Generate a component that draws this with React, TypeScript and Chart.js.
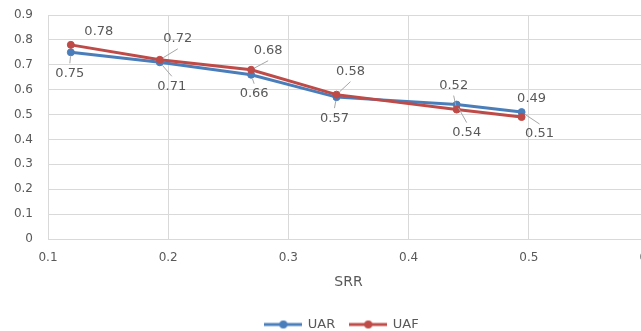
import React, { useEffect, useRef } from "react";
import { Chart, registerables } from "chart.js";

Chart.register(...registerables);

// SRR on the horizontal axis, one value per measurement
const srr = [0.119, 0.193, 0.269, 0.34, 0.44, 0.494];
const uar = [0.75, 0.71, 0.66, 0.57, 0.54, 0.51];
const uaf = [0.78, 0.72, 0.68, 0.58, 0.52, 0.49];

const xTickValues = [0.1, 0.2, 0.3, 0.4, 0.5, 0.6];
const yTickValues = [0, 0.1, 0.2, 0.3, 0.4, 0.5, 0.6, 0.7, 0.8, 0.9];

const seriesNames = ["UAR", "UAF"];
const seriesColors = ["#4a7ebb", "#be4b48"];

// Value-label placement relative to each marker: [dx, dy, leader line]
const uarLabelPlacement: [number, number, boolean][] = [
  [-1, 21, true],
  [12, 24, true],
  [3, 19, true],
  [-2, 21, true],
  [10, 28, true],
  [18, 22, true],
];
const uafLabelPlacement: [number, number, boolean][] = [
  [28, -13, false],
  [18, -21, true],
  [17, -19, true],
  [14, -23, true],
  [-3, -24, true],
  [10, -18, false],
];

const FONT = "'DejaVu Sans', sans-serif";
const TEXT = "#595959";
const GRID = "#d9d9d9";

// Legend swatch: a short line with a marker in its middle
function legendGlyph(color: string): HTMLCanvasElement {
  const c = document.createElement("canvas");
  c.width = 38;
  c.height = 10;
  const g = c.getContext("2d")!;
  g.strokeStyle = color;
  g.lineWidth = 3;
  g.beginPath();
  g.moveTo(0, 5);
  g.lineTo(38, 5);
  g.stroke();
  g.fillStyle = color;
  g.beginPath();
  g.arc(19, 5, 4, 0, Math.PI * 2);
  g.fill();
  return c;
}

const valueLabels = {
  id: "valueLabels",
  afterDatasetsDraw(chart: Chart) {
    const ctx = chart.ctx;
    const placements = [uarLabelPlacement, uafLabelPlacement];
    ctx.save();
    ctx.font = `13px ${FONT}`;
    ctx.textAlign = "center";
    ctx.textBaseline = "middle";
    chart.data.datasets.forEach((ds, di) => {
      const meta = chart.getDatasetMeta(di);
      meta.data.forEach((pt: any, i: number) => {
        const [dx, dy, leader] = placements[di][i];
        const px = pt.x;
        const py = pt.y;
        const cx = px + dx;
        const cy = py + dy;
        if (leader) {
          const ex = cx;
          const ey = cy - Math.sign(dy) * 10;
          const vx = ex - px;
          const vy = ey - py;
          const len = Math.hypot(vx, vy);
          if (len > 5) {
            ctx.strokeStyle = "#a6a6a6";
            ctx.lineWidth = 1;
            ctx.beginPath();
            ctx.moveTo(px + (vx / len) * 4, py + (vy / len) * 4);
            ctx.lineTo(ex, ey);
            ctx.stroke();
          }
        }
        const v = (ds.data[i] as any).y as number;
        ctx.fillStyle = TEXT;
        ctx.fillText(v.toFixed(2), cx, cy);
      });
    });
    ctx.restore();
  },
};

export default function App() {
  const canvasRef = useRef<HTMLCanvasElement | null>(null);

  useEffect(() => {
    document.body.style.margin = "0";
    document.body.style.overflow = "hidden";
    const canvas = canvasRef.current;
    if (!canvas) return;

    const series = [uar, uaf];
    const chart = new Chart(canvas, {
      type: "line",
      data: {
        datasets: series.map((vals, si) => ({
          label: seriesNames[si],
          data: vals.map((y, i) => ({ x: srr[i], y })),
          borderColor: seriesColors[si],
          backgroundColor: seriesColors[si],
          pointBackgroundColor: seriesColors[si],
          pointBorderColor: seriesColors[si],
          pointRadius: 3.5,
          pointBorderWidth: 1,
          pointStyle: "circle",
          borderWidth: 3,
          tension: 0,
          order: si === 0 ? 1 : 0,
          _glyph: legendGlyph(seriesColors[si]),
        })) as any,
      },
      options: {
        responsive: false,
        animation: false,
        devicePixelRatio: 1,
        layout: { padding: { top: 15, left: 0, right: 0, bottom: 0 } },
        scales: {
          x: {
            type: "linear",
            min: 0.1,
            max: 0.6,
            afterBuildTicks: (axis: any) => {
              axis.ticks = xTickValues.map((value) => ({ value }));
            },
            afterFit: (axis: any) => {
              axis.height = 64;
              axis.paddingLeft = 0;
              axis.paddingRight = 35;
            },
            grid: { color: GRID, drawTicks: false },
            border: { color: GRID },
            ticks: {
              padding: 12,
              color: TEXT,
              font: { family: FONT, size: 12 },
              callback: (v: any) => Number(v).toFixed(1),
            },
            title: {
              display: true,
              text: "SRR",
              color: TEXT,
              font: { family: FONT, size: 14 },
              padding: { top: 8, bottom: 12 },
            },
          },
          y: {
            min: 0,
            max: 0.9,
            afterBuildTicks: (axis: any) => {
              axis.ticks = yTickValues.map((value) => ({ value }));
            },
            afterFit: (axis: any) => {
              axis.width = 48;
              axis.paddingTop = 0;
              axis.paddingBottom = 0;
            },
            grid: { color: GRID, drawTicks: false },
            border: { color: GRID },
            ticks: {
              padding: 15,
              color: TEXT,
              font: { family: FONT, size: 12 },
              callback: (v: any) => (Number(v) === 0 ? "0" : Number(v).toFixed(1)),
            },
          },
        },
        plugins: {
          legend: {
            position: "bottom",
            labels: {
              usePointStyle: true,
              pointStyleWidth: 36,
              padding: 15,
              color: TEXT,
              font: { family: FONT, size: 13 },
              generateLabels: (c: any) =>
                c.data.datasets.map((d: any, i: number) => ({
                  text: d.label,
                  datasetIndex: i,
                  fillStyle: d.borderColor,
                  strokeStyle: d.borderColor,
                  lineWidth: 0,
                  hidden: false,
                  pointStyle: d._glyph,
                  fontColor: TEXT,
                })),
            },
          },
          tooltip: { enabled: false },
        },
      },
      plugins: [valueLabels],
    });

    return () => chart.destroy();
  }, []);

  return (
    <div style={{ width: 641, height: 331, overflow: "hidden", background: "#fff" }}>
      <canvas ref={canvasRef} width={684} height={341} style={{ display: "block" }} />
    </div>
  );
}
